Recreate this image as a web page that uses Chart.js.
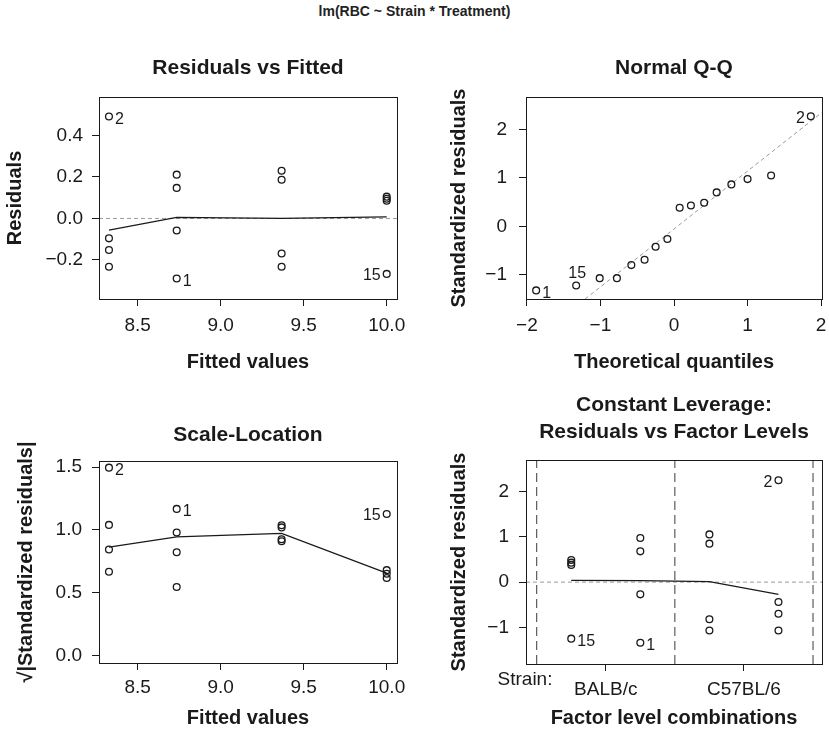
<!DOCTYPE html>
<html>
<head>
<meta charset="utf-8">
<script src="https://cdn.jsdelivr.net/npm/chart.js@4.4.1/dist/chart.umd.min.js"></script>
<style>
body { margin: 0; background: #fff; width: 829px; height: 736px; position: relative; overflow: hidden; }
canvas { position: absolute; }
#main { position: absolute; left: 0; top: 3px; width: 829px; text-align: center;
        font: bold 14px "Liberation Sans", Arial, sans-serif; color: #222; }
</style>
</head>
<body>
<div id="main">lm(RBC ~ Strain * Treatment)</div>
<canvas id="c1" width="414" height="340" style="left:0;top:40px"></canvas>
<canvas id="c2" width="415" height="340" style="left:414px;top:40px"></canvas>
<canvas id="c3" width="414" height="356" style="left:0;top:380px"></canvas>
<canvas id="c4" width="415" height="356" style="left:414px;top:380px"></canvas>
<script>
// one entry per observation (obs 1..16)
var fittedValues = [8.735, 8.327, 8.327, 8.327, 8.327, 8.735, 8.735, 8.735, 9.367, 9.367, 9.367, 9.367, 10.0, 10.0, 10.0, 10.0];
var residuals    = [-0.289, 0.491, -0.096, -0.152, -0.233, 0.211, 0.147, -0.058, 0.230, 0.186, -0.169, -0.233, 0.105, 0.095, -0.267, 0.085];
var sqrtStdResid = [1.167, 1.495, 0.667, 0.844, 1.040, 0.979, 0.823, 0.546, 1.020, 0.926, 0.910, 1.037, 0.680, 0.652, 1.127, 0.618];
var factorLevel  = [2, 4, 4, 4, 4, 2, 2, 2, 3, 3, 3, 3, 1, 1, 1, 1];
var stdResid     = [-1.34, 2.25, -0.44, -0.70, -1.07, 0.975, 0.68, -0.27, 1.055, 0.85, -0.82, -1.07, 0.49, 0.43, -1.25, 0.38];
var idObs  = [0, 1, 14];          // observations that get a number
var idText = ['1', '2', '15'];

// normal Q-Q, sorted
var qqTheoretical = [-1.874, -1.33, -1.01, -0.776, -0.58, -0.40, -0.25, -0.09, 0.077, 0.23, 0.41, 0.58, 0.78, 1.0, 1.32, 1.86];
var qqSample      = [-1.322, -1.22, -1.07, -1.07, -0.80, -0.69, -0.42, -0.26, 0.384, 0.43, 0.487, 0.70, 0.866, 0.975, 1.05, 2.27];
var qqIdIndex = [0, 1, 15];
var qqIdText  = ['1', '15', '2'];
var qqLineX = [-1.21, 2.01];
var qqLineY = [-1.502, 2.349];

// smoother lines
var smoothFitted = [8.327, 8.735, 9.367, 10.0];
var smoothResid  = [-0.056, 0.005, 0.0, 0.008];
var smoothScale  = [0.863, 0.944, 0.973, 0.656];
var smoothLevel  = [1, 2, 3, 4];
var smoothLevelY = [0.04, 0.035, 0.01, -0.27];

// axis ticks
var fittedTicks = [8.5, 9.0, 9.5, 10.0];
var residTicks  = [-0.2, 0.0, 0.2, 0.4];
var qqXTicks    = [-2, -1, 0, 1, 2];
var stdTicks    = [-1, 0, 1, 2];
var scaleTicks  = [0.0, 0.5, 1.0, 1.5];
var strainTicks = [1.5, 3.5];
var strainNames = ['BALB/c', 'C57BL/6'];
var strainLabel = 'Strain:';
var levelDividers = [0.5, 2.5, 4.5];

var FONT = '"Liberation Sans", Arial, sans-serif';
var INK = '#1a1a1a';

function pairs(xs, ys) {
    return xs.map(function(x, i) { return {x: x, y: ys[i]}; });
}

function fmt(v, dec) {
    var s = Math.abs(v).toFixed(dec);
    return v < 0 ? '\u2212' + s : s;
}

// draws the full box round the plot area
var frame = {
    id: 'frame',
    afterDraw: function(chart) {
        var a = chart.chartArea, ctx = chart.ctx;
        ctx.save();
        ctx.strokeStyle = INK;
        ctx.lineWidth = 1;
        ctx.strokeRect(Math.round(a.left) + 0.5, Math.round(a.top) + 0.5,
                       Math.round(a.right - a.left), Math.round(a.bottom - a.top));
        ctx.restore();
    }
};

// observation numbers next to the extreme points
var idLabels = {
    id: 'idLabels',
    afterDatasetsDraw: function(chart, args, opts) {
        if (!opts.index) return;
        var ctx = chart.ctx, xs = chart.scales.x, ys = chart.scales.y;
        var pts = chart.data.datasets[0].data;
        ctx.save();
        ctx.font = '16px ' + FONT;
        ctx.fillStyle = INK;
        ctx.textBaseline = 'middle';
        opts.index.forEach(function(idx, k) {
            var p = pts[idx];
            var px = xs.getPixelForValue(p.x), py = ys.getPixelForValue(p.y);
            var side = opts.sides[k];
            if (side === 'right') {
                ctx.textAlign = 'left';
                ctx.fillText(opts.text[k], px + 6, py + 3);
            } else if (side === 'left') {
                ctx.textAlign = 'right';
                ctx.fillText(opts.text[k], px - 6, py + 2);
            } else {
                ctx.textAlign = 'center';
                ctx.fillText(opts.text[k], px + 1, py - 12);
            }
        });
        if (opts.factorName) {
            var a = chart.chartArea;
            ctx.font = '19px ' + FONT;
            ctx.textAlign = 'center';
            ctx.fillText(opts.factorName, a.left - 1, a.bottom + 16);
        }
        ctx.restore();
    }
};

function xAxis(min, max, ticks, label, height, title, titlePad, tickPad) {
    return {
        type: 'linear', min: min, max: max,
        afterBuildTicks: function(s) { s.ticks = ticks.map(function(v) { return {value: v}; }); },
        afterFit: function(s) { s.height = height; s.paddingLeft = 0; s.paddingRight = 0; },
        ticks: { callback: label, autoSkip: false, maxRotation: 0, color: INK, padding: tickPad,
                 font: {family: FONT, size: 19, lineHeight: 1} },
        grid: { drawOnChartArea: false, drawTicks: true, tickLength: 7, tickColor: INK },
        border: { display: false },
        title: { display: true, text: title, color: INK, padding: {top: 0, bottom: titlePad},
                 font: {family: FONT, size: 20, weight: 'bold', lineHeight: 1.2} }
    };
}

function yAxis(min, max, ticks, label, width, title, titlePad, tickPad) {
    return {
        type: 'linear', min: min, max: max,
        afterBuildTicks: function(s) { s.ticks = ticks.map(function(v) { return {value: v}; }); },
        afterFit: function(s) { s.width = width; s.paddingTop = 0; s.paddingBottom = 0; },
        ticks: { callback: label, autoSkip: false, color: INK, padding: tickPad,
                 font: {family: FONT, size: 19, lineHeight: 1} },
        grid: { drawOnChartArea: false, drawTicks: true, tickLength: 7, tickColor: INK },
        border: { display: false },
        title: { display: true, text: title, color: INK, padding: {top: titlePad, bottom: 0},
                 font: {family: FONT, size: 20, weight: 'bold', lineHeight: 1.2} }
    };
}

function pointSet(data) {
    return { data: data, showLine: false, pointRadius: 3.4, pointHoverRadius: 3.4, pointBorderWidth: 1.3,
             pointBorderColor: INK, pointBackgroundColor: 'rgba(0,0,0,0)' };
}

function lineSet(data, color, dash, width) {
    return { data: data, showLine: true, borderColor: color, borderWidth: width || 1.3, borderDash: dash || [],
             pointRadius: 0, pointHoverRadius: 0, tension: 0, fill: false };
}

function BuildPanel(position, title, titlePad, rightPad, scales, datasets, ids) {
    var ctx = document.getElementById(position).getContext('2d');
    return new Chart(ctx, {
        type: 'scatter',
        data: { datasets: datasets },
        options: {
            responsive: false,
            animation: false,
            events: [],
            layout: { padding: {left: 0, top: 0, right: rightPad, bottom: 0} },
            plugins: {
                legend: { display: false },
                tooltip: { enabled: false },
                title: { display: true, text: title, fullSize: false, color: INK, padding: titlePad,
                         font: {family: FONT, size: 21, weight: 'bold', lineHeight: 1.28} },
                idLabels: ids
            },
            scales: scales
        },
        plugins: [frame, idLabels]
    });
}

// 1: Residuals vs Fitted
var f1 = [8.267, 10.062], r1 = [-0.388, 0.585];
BuildPanel('c1', 'Residuals vs Fitted', {top: 14.6, bottom: 15.5}, 17, {
    x: xAxis(f1[0], f1[1], fittedTicks, function(v) { return fmt(v, 1); }, 81, 'Fitted values', 6, 10.5),
    y: yAxis(r1[0], r1[1], residTicks, function(v) { return fmt(v, 1); }, 99, 'Residuals', 3.8, 9)
}, [
    pointSet(pairs(fittedValues, residuals)),
    lineSet(pairs(smoothFitted, smoothResid), INK),
    lineSet(pairs(f1, [0, 0]), '#9a9a9a', [4, 3], 1)
], { index: idObs, text: idText, sides: ['right', 'right', 'left'] });

// 2: Normal Q-Q
var q2 = [-2.012, 2.012], s2 = [-1.50, 2.67];
BuildPanel('c2', 'Normal Q-Q', {top: 14.6, bottom: 15.5}, 7, {
    x: xAxis(q2[0], q2[1], qqXTicks, function(v) { return fmt(v, 0); }, 81, 'Theoretical quantiles', 6, 10.5),
    y: yAxis(s2[0], s2[1], stdTicks, function(v) { return fmt(v, 0); }, 112, 'Standardized residuals', 33, 12)
}, [
    pointSet(pairs(qqTheoretical, qqSample)),
    lineSet(pairs(qqLineX, qqLineY), '#9a9a9a', [4, 3], 1)
], { index: qqIdIndex, text: qqIdText, sides: ['right', 'above', 'left'] });

// 3: Scale-Location
var s3 = [-0.058, 1.548];
BuildPanel('c3', 'Scale-Location', {top: 41.6, bottom: 12.5}, 17, {
    x: xAxis(f1[0], f1[1], fittedTicks, function(v) { return fmt(v, 1); }, 73, 'Fitted values', 6, 8.5),
    y: yAxis(s3[0], s3[1], scaleTicks, function(v) { return fmt(v, 1); }, 99, '\u221A|Standardized residuals|', 14, 10)
}, [
    pointSet(pairs(fittedValues, sqrtStdResid)),
    lineSet(pairs(smoothFitted, smoothScale), INK)
], { index: idObs, text: idText, sides: ['right', 'right', 'left'] });

// 4: Constant Leverage
var l4 = [0.345, 4.63], s4 = [-1.81, 2.70];
var dividerSets = levelDividers.map(function(d) {
    return lineSet(pairs([d, d], s4), '#3a3a3a', [9, 5], 1);
});
BuildPanel('c4', ['Constant Leverage:', 'Residuals vs Factor Levels'], {top: 11.6, bottom: 14.6}, 7, {
    x: xAxis(l4[0], l4[1], strainTicks, function(v, i) { return strainNames[i]; }, 72, 'Factor level combinations', 6, 9.5),
    y: yAxis(s4[0], s4[1], stdTicks, function(v) { return fmt(v, 0); }, 112, 'Standardized residuals', 33, 10)
}, [
    pointSet(pairs(factorLevel, stdResid)),
    lineSet(pairs(smoothLevel, smoothLevelY), INK),
    lineSet(pairs(l4, [0, 0]), '#9a9a9a', [4, 3], 1)
].concat(dividerSets), { index: idObs, text: idText, sides: ['right', 'left', 'right'], factorName: strainLabel });
</script>
</body>
</html>
